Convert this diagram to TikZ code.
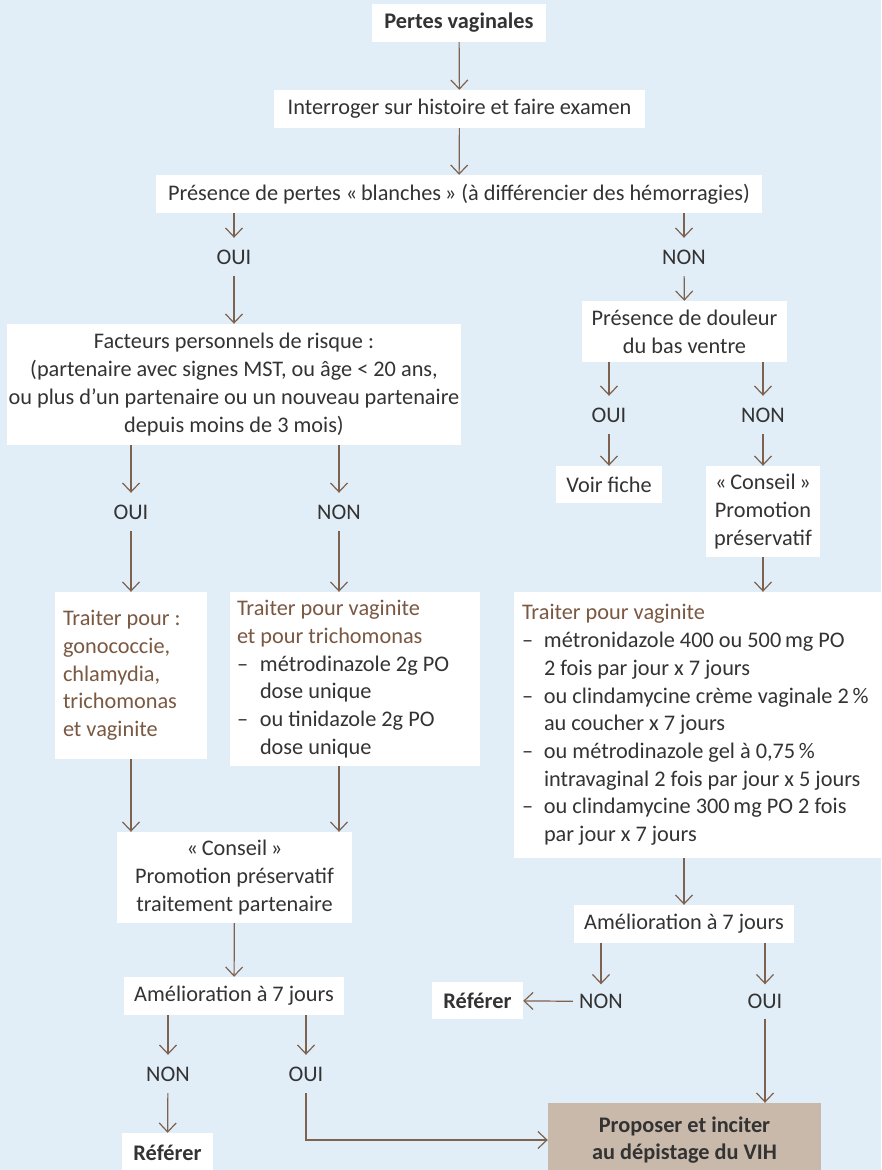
\documentclass[tikz,border=0pt]{standalone}
\usepackage{fontspec}
\setmainfont{Carlito}
\usetikzlibrary{arrows.meta,positioning}

\definecolor{fondbleu}{HTML}{E2EEF7}
\definecolor{brun}{HTML}{7D6250}
\definecolor{titrebrun}{HTML}{7A5842}
\definecolor{texte}{HTML}{333333}
\definecolor{beige}{HTML}{C9B9AB}

\tikzset{
  boite/.style={fill=white,inner sep=0pt,align=center,text=texte,font=\fontsize{22.3}{27.7}\selectfont},
  boitegauche/.style={boite,align=flush left,inner xsep=8pt,inner ysep=0pt},
  rep/.style={inner sep=0pt,minimum width=56pt,minimum height=38pt,text=texte,font=\fontsize{22.3}{27.7}\selectfont},
  fleche/.style={draw=brun,line width=1.2pt,-{Straight Barb[length=9pt,width=17pt]}},
}
\newcommand{\tiret}[1]{\makebox[#1][l]{--}}

\begin{document}
\begin{tikzpicture}[x=1pt,y=-1pt]
  \fill[fondbleu] (0,0) rectangle (881,1170);
  \clip (0,0) rectangle (881,1170);
  \node[boite,minimum width=174pt,minimum height=38pt,font=\fontsize{22.3}{27.7}\selectfont\bfseries] (pertes) at (459,23) {Pertes vaginales};
  \node[boite,minimum width=371pt,minimum height=38pt] (interroger) at (459.5,109) {Interroger sur histoire et faire examen};
  \node[boite,minimum width=606pt,minimum height=38pt] (blanches) at (459,194) {Présence de pertes «\,blanches\,» (à différencier des hémorragies)};
  \node[rep] (oui1) at (234,257) {OUI};
  \node[rep] (non1) at (684,257) {NON};
  \node[boite,minimum width=454pt,minimum height=121pt] (facteurs) at (234,384.5) {Facteurs personnels de risque :\\(partenaire avec signes MST, ou âge < 20 ans,\\ou plus d’un partenaire ou un nouveau partenaire\\depuis moins de 3 mois)};
  \node[boite,minimum width=205pt,minimum height=61pt] (douleur) at (684.5,331.5) {Présence de douleur\\du bas ventre};
  \node[rep] (ouiA) at (131,512) {OUI};
  \node[rep] (nonA) at (339,512) {NON};
  \node[rep] (ouiB) at (609,415) {OUI};
  \node[rep] (nonB) at (763,415) {NON};
  \node[boite,minimum width=106pt,minimum height=37pt] (voir) at (609,484.5) {Voir fiche};
  \node[boite,minimum width=114pt,minimum height=91pt] (conseilR) at (763,511.5) {«\,Conseil\,»\\Promotion\\préservatif};
  \node[boitegauche,text width=136pt,minimum height=167pt,text=titrebrun] (traiterL) at (131,675.5) {Traiter pour :\\gonococcie,\\chlamydia,\\trichomonas\\et vaginite};
  \node[boitegauche,inner xsep=7pt,text width=236pt,minimum height=174pt] (traiterM) at (355,679) {\textcolor{titrebrun}{Traiter pour vaginite}\\\textcolor{titrebrun}{et pour trichomonas}\\\tiret{23pt}métrodinazole 2g PO\\\hspace*{23pt}dose unique\\\tiret{23pt}ou tinidazole 2g PO\\\hspace*{23pt}dose unique};
  \node[boitegauche,text width=357pt,minimum height=266pt] (traiterR) at (700.5,725) {\textcolor{titrebrun}{Traiter pour vaginite}\\\tiret{22pt}métronidazole 400 ou 500\,mg PO\\\hspace*{22pt}2 fois par jour x 7 jours\\\tiret{22pt}ou clindamycine crème vaginale 2\,\%\\\hspace*{22pt}au coucher x 7 jours\\\tiret{22pt}ou métrodinazole gel à 0,75\,\%\\\hspace*{22pt}intravaginal 2 fois par jour x 5 jours\\\tiret{22pt}ou clindamycine 300\,mg PO 2 fois\\\hspace*{22pt}par jour x 7 jours};
  \node[boite,minimum width=235pt,minimum height=91pt] (conseilL) at (234.5,877.5) {«\,Conseil\,»\\Promotion préservatif\\traitement partenaire};
  \node[boite,minimum width=220pt,minimum height=38pt] (amelL) at (234,996) {Amélioration à 7 jours};
  \node[rep] (nonL) at (168,1074) {NON};
  \node[rep] (ouiL) at (306,1074) {OUI};
  \node[boite,minimum width=91pt,minimum height=40pt,font=\fontsize{22.3}{27.7}\selectfont\bfseries] (refL) at (167.5,1153) {Référer};
  \node[boite,minimum width=220pt,minimum height=38pt] (amelR) at (684,924) {Amélioration à 7 jours};
  \node[rep,minimum height=34pt] (nonR) at (601,1001.5) {NON};
  \node[rep,minimum height=34pt] (ouiR) at (765,1001.5) {OUI};
  \node[boite,minimum width=91pt,minimum height=37pt,font=\fontsize{22.3}{27.7}\selectfont\bfseries] (refR) at (477.5,1000.5) {Référer};
  \node[boite,fill=beige,minimum width=273pt,minimum height=74pt,font=\fontsize{22.3}{27.7}\selectfont\bfseries] (proposer) at (684.5,1140) {Proposer et inciter\\au dépistage du VIH};
  \draw[fleche] (pertes) -- (interroger);
  \draw[fleche] (interroger) -- (blanches);
  \draw[fleche] (oui1 |- blanches.south) -- (oui1);
  \draw[fleche] (non1 |- blanches.south) -- (non1);
  \draw[fleche] (oui1) -- (facteurs);
  \draw[fleche] (non1) -- (douleur);
  \draw[fleche] (ouiA |- facteurs.south) -- (ouiA);
  \draw[fleche] (nonA |- facteurs.south) -- (nonA);
  \draw[fleche] (ouiA) -- (traiterL);
  \draw[fleche] (nonA) -- (nonA |- traiterM.north);
  \draw[fleche] (ouiB |- douleur.south) -- (ouiB);
  \draw[fleche] (nonB |- douleur.south) -- (nonB);
  \draw[fleche] (ouiB) -- (voir);
  \draw[fleche] (nonB) -- (conseilR);
  \draw[fleche] (conseilR) -- (conseilR |- traiterR.north);
  \draw[fleche] (traiterL) -- (traiterL |- conseilL.north);
  \draw[fleche] (nonA |- traiterM.south) -- (nonA |- conseilL.north);
  \draw[fleche] (conseilL) -- (amelL);
  \draw[fleche] (nonL |- amelL.south) -- (nonL);
  \draw[fleche] (ouiL |- amelL.south) -- (ouiL);
  \draw[fleche] (nonL) -- (refL);
  \draw[fleche] (ouiL.south) |- (proposer.west);
  \draw[fleche] (amelR |- traiterR.south) -- (amelR);
  \draw[fleche] (nonR |- amelR.south) -- (nonR);
  \draw[fleche] (ouiR |- amelR.south) -- (ouiR);
  \draw[fleche] (nonR) -- (refR);
  \draw[fleche] (ouiR) -- (ouiR |- proposer.north);
\end{tikzpicture}
\end{document}
